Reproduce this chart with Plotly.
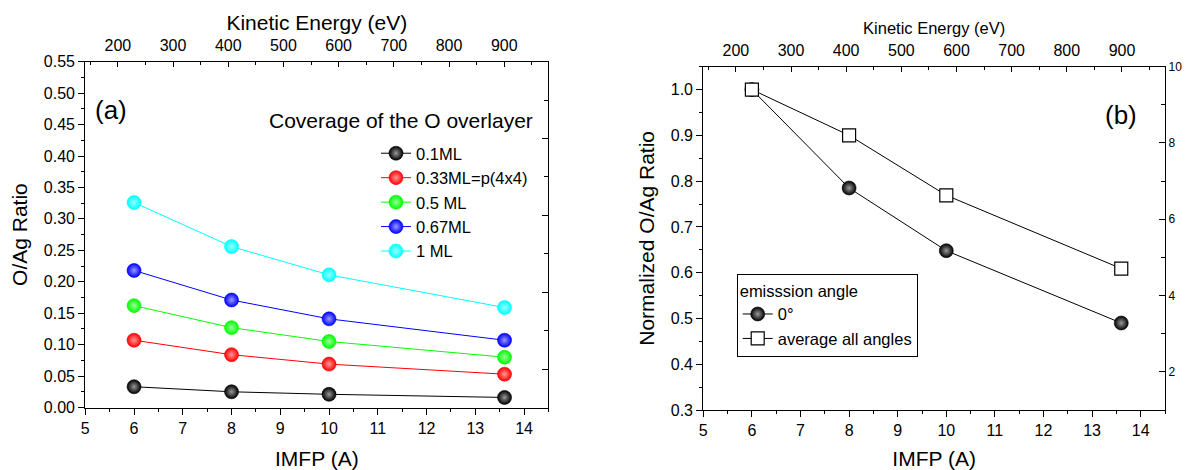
import plotly.graph_objects as go

# ---- data -------------------------------------------------------------
imfp = [6, 8, 10, 13.6]  # inelastic mean free path (A)

cov_labels = ["0.1ML", "0.33ML=p(4x4)", "0.5 ML", "0.67ML", "1 ML"]
ratio_01 = [0.033, 0.025, 0.021, 0.016]
ratio_033 = [0.107, 0.084, 0.069, 0.053]
ratio_05 = [0.162, 0.127, 0.105, 0.080]
ratio_067 = [0.218, 0.171, 0.141, 0.107]
ratio_1 = [0.326, 0.256, 0.211, 0.159]
cov_colors = ["#000000", "#ff0000", "#00ff00", "#0000ff", "#00ffff"]

angle_labels = ["0\u00b0", "average all angles"]
norm_0deg = [1.0, 0.785, 0.648, 0.490]
norm_avg = [1.0, 0.900, 0.769, 0.609]

FONT = "Liberation Sans, Arial, sans-serif"
W, H = 1188, 470


def tint(hex_color, amount):
    h = hex_color.lstrip("#")
    r, g, b = (int(h[i:i + 2], 16) for i in (0, 2, 4))
    mix = lambda c: int(c + (255 - c) * amount)
    return "#{:02x}{:02x}{:02x}".format(mix(r), mix(g), mix(b))


def px_x(px):
    return px / W


def px_y(py):
    return 1 - py / H


fig = go.Figure()

# ---- panel (a): O/Ag ratio for each coverage ----------------------------
for name, vals, col in zip(
    cov_labels, [ratio_01, ratio_033, ratio_05, ratio_067, ratio_1], cov_colors
):
    fig.add_trace(
        go.Scatter(
            x=imfp, y=vals, name=name, mode="lines+markers",
            xaxis="x", yaxis="y", legend="legend",
            line=dict(color=col, width=1),
            marker=dict(
                size=14, color=col, symbol="circle",
                gradient=dict(type="radial", color=tint(col, 0.6)),
                line=dict(width=0.6, color=col),
            ),
        )
    )

# ---- panel (b): normalised ratio ---------------------------------------
fig.add_trace(
    go.Scatter(
        x=imfp, y=norm_0deg, name=angle_labels[0], mode="lines+markers",
        xaxis="x2", yaxis="y2", legend="legend2",
        line=dict(color="black", width=1),
        marker=dict(
            size=14, color="#000000", symbol="circle",
            gradient=dict(type="radial", color="#9a9a9a"),
            line=dict(width=0.6, color="black"),
        ),
    )
)
fig.add_trace(
    go.Scatter(
        x=imfp, y=norm_avg, name=angle_labels[1], mode="lines+markers",
        xaxis="x2", yaxis="y2", legend="legend2",
        line=dict(color="black", width=1),
        marker=dict(size=13, color="white", symbol="square",
                    line=dict(width=1.2, color="black")),
    )
)

# empty traces so the secondary (top / right) axes of both panels are drawn
for xa, ya in (("x3", "y3"), ("x4", "y4")):
    fig.add_trace(go.Scatter(x=[], y=[], xaxis=xa, yaxis=ya,
                             showlegend=False, hoverinfo="skip"))

tick_font = dict(family=FONT, size=16, color="black")
title_font = dict(family=FONT, size=21, color="black")
base = dict(
    showline=True, linecolor="black", linewidth=1.2, showgrid=False,
    zeroline=False, tickcolor="black", tickwidth=1.2, ticklen=6,
    tickfont=tick_font, automargin=False,
)


def minor(step, side, length=3):
    return dict(dtick=step, ticks=side, ticklen=length,
                tickcolor="black", tickwidth=1)


dom_ax = [px_x(85.3), px_x(548.4)]
dom_ay = [px_y(407.5), px_y(61.7)]
dom_bx = [px_x(703.3), px_x(1165)]
dom_by = [px_y(410), px_y(66.7)]

fig.update_layout(
    width=W, height=H,
    margin=dict(l=0, r=0, t=0, b=0),
    paper_bgcolor="white", plot_bgcolor="white",
    font=dict(family=FONT, color="black"),
    # panel (a)
    xaxis=dict(base, domain=dom_ax, anchor="y", range=[5, 14.5],
               tick0=0, dtick=1, ticks="outside",
               minor=minor(0.5, "outside"),
               title=dict(text="IMFP (A)", font=title_font, standoff=17)),
    yaxis=dict(base, domain=dom_ay, anchor="x", range=[0, 0.55],
               tick0=0, dtick=0.05, tickformat=".2f", ticks="outside",
               minor=minor(0.025, "outside"),
               title=dict(text="O/Ag Ratio", font=title_font, standoff=10)),
    xaxis3=dict(base, overlaying="x", anchor="y", side="top",
                range=[141, 980], tick0=0, dtick=100, ticks="inside",
                ticklen=5, ticklabelstandoff=3,
                minor=minor(50, "inside"),
                title=dict(text="Kinetic Energy (eV)", font=title_font,
                           standoff=0)),
    yaxis3=dict(base, overlaying="y", anchor="x", side="right",
                range=[1, 10], tick0=0, dtick=2, ticks="inside",
                showticklabels=False, minor=minor(1, "inside", 4)),
    # panel (b)
    xaxis2=dict(base, domain=dom_bx, anchor="y2", range=[5, 14.5],
                tick0=0, dtick=1, ticks="outside",
                minor=minor(0.5, "outside"),
                title=dict(text="IMFP (A)", font=title_font, standoff=17)),
    yaxis2=dict(base, domain=dom_by, anchor="x2", range=[0.3, 1.05],
                tick0=0, dtick=0.1, tickformat=".1f", ticks="outside",
                minor=minor(0.05, "outside"),
                title=dict(text="Normalized O/Ag Ratio", font=title_font,
                           standoff=10)),
    xaxis4=dict(base, overlaying="x2", anchor="y2", side="top",
                range=[141, 978], tick0=0, dtick=100, ticks="inside",
                ticklen=5, ticklabelstandoff=3,
                minor=minor(50, "inside"),
                title=dict(text="Kinetic Energy (eV)",
                           font=dict(family=FONT, size=16.5, color="black"),
                           standoff=3)),
    yaxis4=dict(base, overlaying="y2", anchor="x2", side="right",
                range=[1, 10], tick0=0, dtick=2, ticks="inside",
                tickfont=dict(family=FONT, size=12, color="black"),
                minor=minor(1, "inside", 4)),
    legend=dict(
        x=px_x(376), y=px_y(136), xanchor="left", yanchor="top",
        bgcolor="rgba(0,0,0,0)", borderwidth=0,
        font=dict(family=FONT, size=16.5, color="black"),
        itemsizing="trace",
    ),
    legend2=dict(
        x=px_x(736.7), y=px_y(274.3), xanchor="left", yanchor="top",
        bgcolor="white", bordercolor="black", borderwidth=1,
        font=dict(family=FONT, size=16.5, color="black"),
        title=dict(text="emisssion angle",
                   font=dict(family=FONT, size=16.5, color="black")),
        itemsizing="trace",
    ),
    showlegend=True,
)

# panel labels and the coverage caption
fig.add_annotation(text="(a)", x=px_x(93), y=px_y(93), xref="paper",
                   yref="paper", xanchor="left", showarrow=False,
                   font=dict(family=FONT, size=26, color="black"))
fig.add_annotation(text="(b)", x=px_x(1139), y=px_y(98), xref="paper",
                   yref="paper", xanchor="right", showarrow=False,
                   font=dict(family=FONT, size=26, color="black"))
fig.add_annotation(text="Coverage of the O overlayer", x=px_x(535),
                   y=px_y(107.3), xref="paper", yref="paper",
                   xanchor="right", showarrow=False,
                   font=dict(family=FONT, size=21, color="black"))

fig.write_html("out.html")
